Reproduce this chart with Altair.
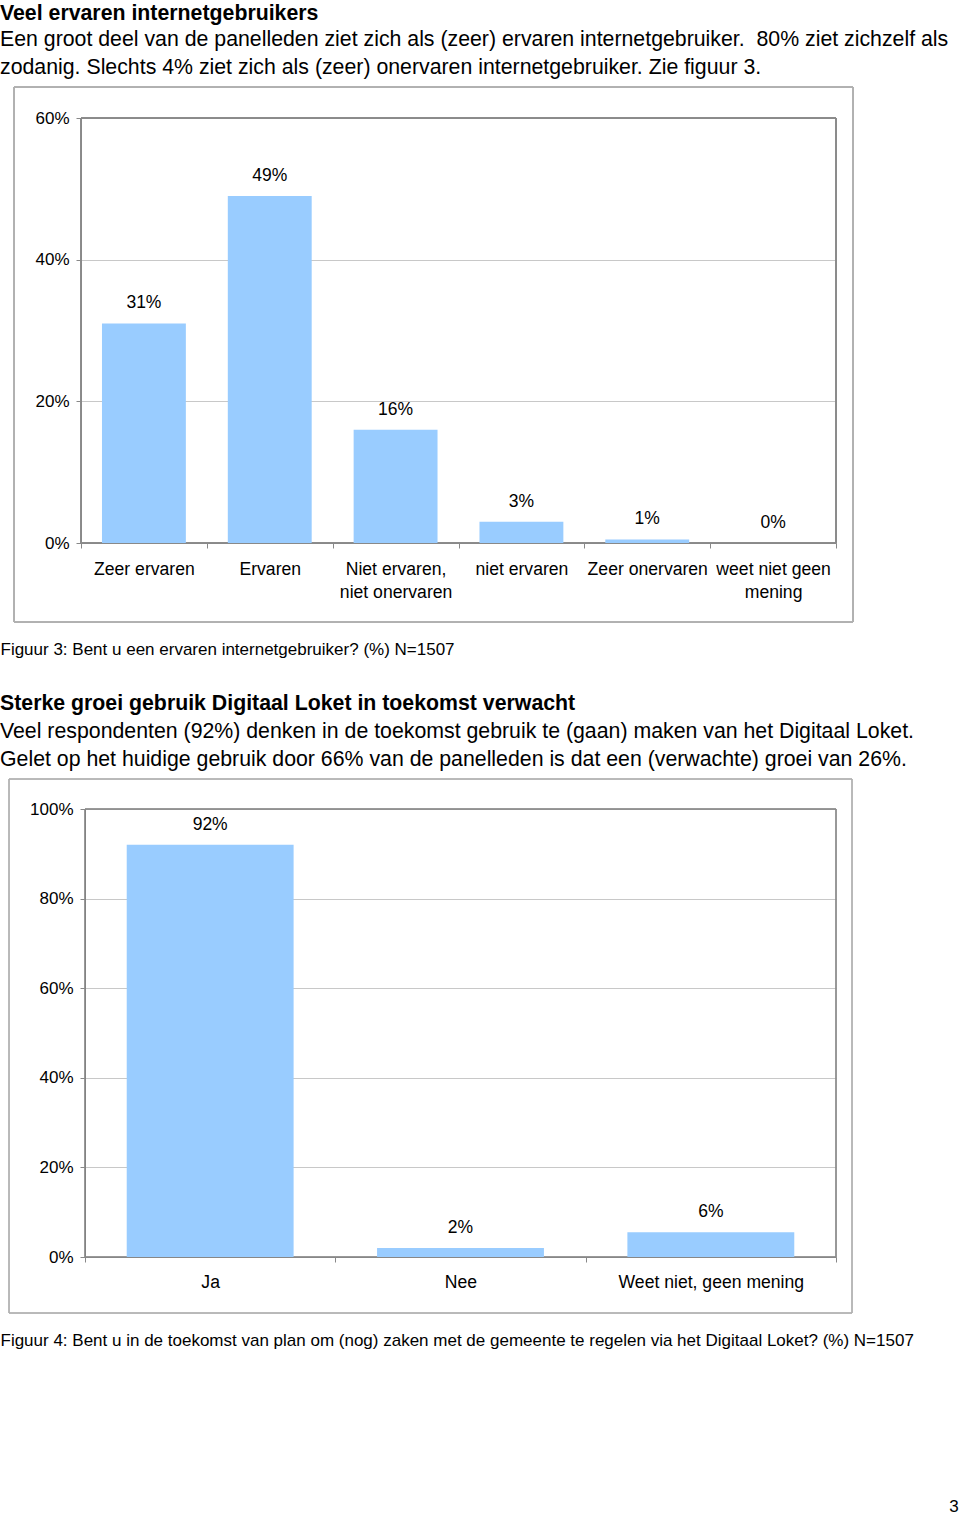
import altair as alt
import pandas as pd

FONT = "Liberation Sans"
BLUE = "#99CCFF"

# ---------------- data ----------------
cats1 = ["Zeer ervaren", "Ervaren", "Niet ervaren,|niet onervaren",
         "niet ervaren", "Zeer onervaren", "weet niet geen|mening"]
vals1 = [31, 49, 16, 3, 0.5, 0]
labels1 = ["31%", "49%", "16%", "3%", "1%", "0%"]
ticks1 = [0, 20, 40, 60]

cats2 = ["Ja", "Nee", "Weet niet, geen mening"]
vals2 = [92, 2, 5.5]
labels2 = ["92%", "2%", "6%"]
ticks2 = [0, 20, 40, 60, 80, 100]

heading1 = "Veel ervaren internetgebruikers"
para1 = [
    "Een groot deel van de panelleden ziet zich als (zeer) ervaren internetgebruiker.\u00a0 80% ziet zichzelf als",
    "zodanig. Slechts 4% ziet zich als (zeer) onervaren internetgebruiker. Zie figuur 3.",
]
caption1 = "Figuur 3: Bent u een ervaren internetgebruiker? (%) N=1507"

heading2 = "Sterke groei gebruik Digitaal Loket in toekomst verwacht"
para2 = [
    "Veel respondenten (92%) denken in de toekomst gebruik te (gaan) maken van het Digitaal Loket.",
    "Gelet op het huidige gebruik door 66% van de panelleden is dat een (verwachte) groei van 26%.",
]
caption2 = ("Figuur 4: Bent u in de toekomst van plan om (nog) zaken met de gemeente te regelen "
            "via het Digitaal Loket? (%) N=1507")
page_number = "3"

TXT = 21.3
LEFT = 81  # distance from page edge to the shared plot origin


def bar_panel(cats, vals, labels, ticks, width, height, inset, frame,
              heading, para, caption, cap_y, title_offset, sub_pad, label_pad,
              extra=None):
    df = pd.DataFrame({"cat": cats, "val": vals, "lab": labels})
    ymax = ticks[-1]
    x = alt.X(
        "cat:N", sort=cats,
        scale=alt.Scale(paddingInner=0, paddingOuter=0, range=[inset, width]),
        axis=alt.Axis(
            title=caption, titleX=-LEFT, titleY=cap_y, titleAnchor="start",
            titleAlign="left", titleBaseline="middle", titleFontSize=17,
            titleFontWeight="normal", titleColor="#000",
            labelAngle=0, labelExpr="split(datum.label, '|')",
            labelFontSize=17.6, labelLineHeight=23, labelColor="#000",
            labelPadding=label_pad, labelLimit=400, tickBand="extent", tickSize=5,
            tickColor="#888", domainColor="#777", grid=False,
        ),
    )
    y = alt.Y(
        "val:Q",
        scale=alt.Scale(domain=[0, ymax], nice=False),
        axis=alt.Axis(
            title=None, values=ticks, labelExpr="datum.value + '%'",
            labelFontSize=17, labelColor="#000", labelPadding=7,
            tickSize=5, tickColor="#888", domainColor="#555",
            grid=True, gridColor="#c8c8c8", offset=-inset,
        ),
    )
    base = alt.Chart(df)
    fx0, fx1, fy0, fy1 = frame
    frame_rect = base.mark_rect(fillOpacity=0, stroke="#b0b0b0", strokeWidth=1).encode(
        x=alt.value(fx0), x2=alt.value(fx1), y=alt.value(fy0), y2=alt.value(fy1)
    )
    plot_rect = base.mark_rect(fillOpacity=0, stroke="#8a8a8a", strokeWidth=1).encode(
        x=alt.value(inset), x2=alt.value(width), y=alt.value(0), y2=alt.value(height)
    )
    bars = base.mark_bar(color=BLUE, width=alt.RelativeBandSize(2 / 3)).encode(x=x, y=y)
    texts = base.mark_text(dy=-20, baseline="middle", fontSize=17.5, color="#000").encode(
        x=alt.X("cat:N", sort=cats), y="val:Q", text="lab:N"
    )
    layers = [frame_rect, plot_rect, bars, texts]
    if extra is not None:
        layers.append(extra)
    return alt.layer(*layers).properties(
        width=width, height=height,
        title=alt.TitleParams(
            text=heading, subtitle=para, anchor="start", frame="group", dx=-LEFT,
            fontSize=TXT, fontWeight="bold", color="#000",
            subtitleFontSize=TXT, subtitleColor="#000", subtitleLineHeight=28,
            subtitlePadding=sub_pad, offset=title_offset,
        ),
    )


chart1 = bar_panel(cats1, vals1, labels1, ticks1, 755, 425, 0,
                   (-67, 772, -31, 504), heading1, para1, caption1, 106, 8, 5, 12)

page_df = pd.DataFrame({"t": [page_number]})
page_mark = alt.Chart(page_df).mark_text(fontSize=17, color="#000", align="center",
                                         baseline="middle").encode(
    x=alt.value(873), y=alt.value(698), text="t:N"
)
chart2 = bar_panel(cats2, vals2, labels2, ticks2, 755, 448, 4,
                   (-72, 771, -30, 504), heading2, para2, caption2, 83, 8, 7, 11,
                   extra=page_mark)

chart = alt.vconcat(chart1, chart2, spacing=35).properties(
    padding={"top": 2, "left": 0, "right": 0, "bottom": 0}
).configure(font=FONT).configure_view(strokeOpacity=0)

chart.save("out.html", embed_options={"renderer": "svg", "actions": False})
